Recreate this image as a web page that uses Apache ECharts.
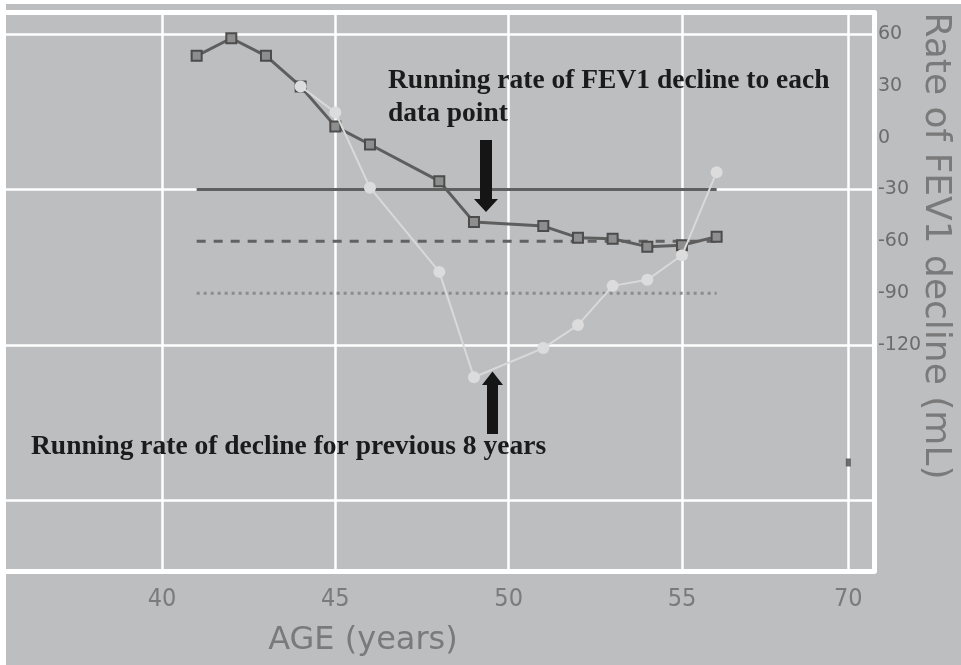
<!DOCTYPE html>
<html>
<head>
<meta charset="utf-8">
<script src="https://cdn.jsdelivr.net/npm/echarts@6/dist/echarts.min.js"></script>
<style>
  html, body { margin: 0; padding: 0; background: #ffffff; }
  #chart { width: 961px; height: 665px; }
</style>
</head>
<body>
<div id="chart"></div>
<script>
// Running rate of FEV1 decline to each data point (mL / year)
const darkAges   = [41, 42, 43, 44, 45, 46, 48, 49, 51, 52, 53, 54, 55, 56];
const darkValues = [47.3, 57.5, 47.3, 29.6, 6.5, -4, -25.2, -48.9, -51.2, -57.9, -58.5, -63.1, -62.3, -57.3];

// Running rate of decline over the previous 8 years
const lightAges   = [44, 45, 46, 48, 49, 51, 52, 53, 54, 55, 56];
const lightValues = [29.6, 14.6, -29, -77.7, -138.7, -121.8, -108.5, -85.8, -82.3, -68.1, -20];

// Threshold reference levels (solid, dashed, dotted)
const refLevels = [-30, -60, -90];
const refSpan   = [41, 56];

// Isolated reading at the far end of the age axis
const strayAges   = [70];
const strayValues = [-188];

// Age axis is compressed between 56 and 70
const xTickAges = [40, 45, 50, 55, 70];
const xTickPos  = [40, 45, 50, 55, 59.8];
const yTickLabels = [60, 30, 0, -30, -60, -90, -120];
const yGridValues = [60, -30, -120, -210];

function agePos(a) {
  if (a <= 56) return a;
  return 56 + (a - 56) * (xTickPos[4] - 56) / (xTickAges[4] - 56);
}
function tickText(v) {
  for (let i = 0; i < xTickPos.length; i++) {
    if (Math.abs(xTickPos[i] - v) < 1e-6) return String(xTickAges[i]);
  }
  return '';
}

const X_MIN = 35.5, X_MAX = 60.54;
const Y_MIN = -250.8, Y_MAX = 72.4;
const BG = '#bdbec0';

const refStyles = [
  { color: '#606060', width: 3, type: 'solid' },
  { color: '#626262', width: 3, type: [9, 8] },
  { color: '#8c8c8c', width: 3, type: [3, 4] }
];

const refSeries = refLevels.map((lvl, i) => ({
  type: 'line',
  z: 3,
  silent: true,
  symbol: 'none',
  lineStyle: refStyles[i],
  data: [[refSpan[0], lvl], [refSpan[1], lvl]]
}));

const chart = echarts.init(document.getElementById('chart'), null, { renderer: 'canvas' });

chart.setOption({
  backgroundColor: BG,
  animation: false,
  grid: { left: 6, top: 12.5, right: 87, bottom: 94, show: false },
  xAxis: [
    {
      type: 'value',
      min: X_MIN, max: X_MAX,
      position: 'bottom',
      axisLine: { show: true, onZero: false, lineStyle: { color: '#ffffff', width: 5 } },
      axisTick: { show: false },
      splitLine: { show: false },
      axisLabel: {
        customValues: xTickPos,
        formatter: tickText,
        margin: 16,
        color: '#7b7b7b',
        fontFamily: 'DejaVu Sans Condensed, DejaVu Sans',
        fontSize: 25
      }
    },
    {
      type: 'value',
      min: X_MIN, max: X_MAX,
      position: 'top',
      axisLine: { show: true, onZero: false, lineStyle: { color: '#ffffff', width: 5 } },
      axisTick: { show: false },
      axisLabel: { show: false },
      splitLine: { show: false }
    }
  ],
  yAxis: {
    type: 'value',
    min: Y_MIN, max: Y_MAX,
    position: 'right',
    axisLine: { show: true, onZero: false, lineStyle: { color: '#ffffff', width: 5 } },
    axisTick: { show: false },
    splitLine: { show: false },
    axisLabel: {
      customValues: yTickLabels,
      margin: 4,
      color: '#6c6c6c',
      fontFamily: 'DejaVu Sans',
      fontSize: 19
    }
  },
  series: [
    {
      // white grid, kept beneath every data mark
      type: 'line',
      z: 1,
      silent: true,
      data: [],
      markLine: {
        z: 1,
        silent: true,
        symbol: ['none', 'none'],
        label: { show: false },
        lineStyle: { color: '#ffffff', width: 2.5, type: 'solid' },
        data: yGridValues.map(v => ({ yAxis: v })).concat(xTickPos.map(v => ({ xAxis: v })))
      }
    },
    ...refSeries,
    {
      name: 'to each data point',
      type: 'line',
      z: 4,
      data: darkAges.map((a, i) => [agePos(a), darkValues[i]]),
      symbol: 'rect',
      symbolSize: 10,
      lineStyle: { color: '#5e5e5e', width: 3 },
      itemStyle: { color: '#8e8e8e', borderColor: '#4c4c4c', borderWidth: 2 }
    },
    {
      name: 'previous 8 years',
      type: 'line',
      z: 5,
      data: lightAges.map((a, i) => [agePos(a), lightValues[i]]),
      symbol: 'circle',
      symbolSize: 12,
      lineStyle: { color: '#d9d9d9', width: 2 },
      itemStyle: { color: '#dcdcdc', borderWidth: 0 }
    },
    {
      type: 'scatter',
      z: 4,
      data: strayAges.map((a, i) => [agePos(a), strayValues[i]]),
      symbol: 'rect',
      symbolSize: [5, 8],
      itemStyle: { color: '#4a4a4a' }
    }
  ],
  graphic: [
    { type: 'rect', z: 100, shape: { x: 0, y: 0, width: 6, height: 665 }, style: { fill: '#ffffff' } },
    { type: 'rect', z: 100, shape: { x: 0, y: 0, width: 961, height: 4 }, style: { fill: '#ffffff' } },
    {
      type: 'text', z: 50, x: 363, y: 641,
      style: { text: 'AGE (years)', fill: '#7a7a7a', font: '32px "DejaVu Sans"', align: 'center', verticalAlign: 'middle' }
    },
    {
      type: 'text', z: 50, x: 935, y: 246, rotation: -Math.PI / 2,
      style: { text: 'Rate of FEV1 decline (mL)', fill: '#7a7a7a', font: '36px "DejaVu Sans"', align: 'center', verticalAlign: 'middle' }
    },
    {
      type: 'text', z: 50, x: 388, y: 64,
      style: { text: 'Running rate of FEV1 decline to each\ndata point', fill: '#1b1b1b', font: 'bold 27.5px "Liberation Serif"', lineHeight: 33, align: 'left', verticalAlign: 'top' }
    },
    {
      type: 'text', z: 50, x: 31, y: 433,
      style: { text: 'Running rate of decline for previous 8 years', fill: '#1b1b1b', font: 'bold 27.5px "Liberation Serif"', align: 'left', verticalAlign: 'top' }
    },
    {
      type: 'polygon', z: 50,
      shape: { points: [[480, 140], [492, 140], [492, 199], [498, 199], [486, 212], [474, 199], [480, 199]] },
      style: { fill: '#151515' }
    },
    {
      type: 'polygon', z: 50,
      shape: { points: [[492.5, 371.5], [503, 385], [498, 385], [498, 434], [487, 434], [487, 385], [482, 385]] },
      style: { fill: '#151515' }
    }
  ]
});
</script>
</body>
</html>
